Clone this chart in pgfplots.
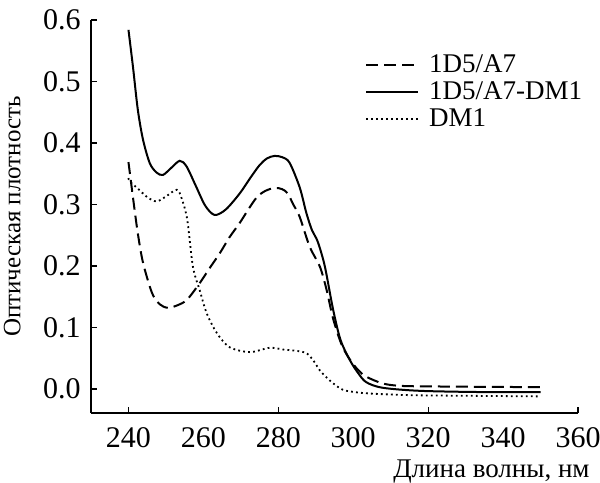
\documentclass[border=0pt]{standalone}
\usepackage{fontspec}
\setmainfont{Liberation Serif}
\usepackage{pgfplots}
\pgfplotsset{compat=1.18}

\begin{document}
\fontsize{15bp}{17bp}\selectfont
\begin{tikzpicture}
\begin{axis}[
  name=ax,
  scale only axis,
  width=243.5bp, height=196.5bp,
  xmin=230, xmax=360,
  ymin=-0.039, ymax=0.6,
  axis x line*=bottom,
  axis y line*=left,
  axis line style={-, line width=0.6bp},
  tick style={black, line width=0.6bp},
  tick align=inside,
  major tick length=3bp,
  xtick={240,280,320,360},
  extra x ticks={260,300,340},
  extra x tick style={major tick length=0pt},
  ytick={0,0.1,...,0.6},
  yticklabel style={/pgf/number format/fixed, /pgf/number format/fixed zerofill, /pgf/number format/precision=1},
  /pgf/number format/assume math mode=true,
  xticklabel style={yshift=-2bp},
  ylabel={Оптическая плотность},
  ylabel style={font=\fontsize{12.5bp}{14bp}\selectfont, yshift=1bp},
  xlabel={Длина волны, нм},
  xlabel style={font=\fontsize{13.5bp}{15bp}\selectfont, at={(axis description cs:1,0)}, anchor=base east, xshift=11bp, yshift=-32bp},
  legend style={draw=none, fill=none, at={(rel axis cs:0.55,0.925)}, anchor=north west,
    row sep=2bp, column sep=5bp, font=\fontsize{13.5bp}{15bp}\selectfont,
    nodes={inner sep=0pt, text height=9.5bp, text depth=2bp}},
  legend cell align=left,
  legend image code/.code={\draw[#1] (0bp,0bp) -- (26bp,0bp);},
  every axis plot/.append style={smooth, no markers, black},
]

\addplot[line width=1bp, dash pattern=on 6bp off 3bp] coordinates {
  (240,0.369)(241.3,0.307)(242.5,0.253)(243.9,0.205)(246.3,0.156)(248.3,0.138)
  (250.5,0.132)(253,0.136)(255.6,0.145)(259,0.172)(261.5,0.195)(264.4,0.221)
  (267,0.247)(269.7,0.270)(272,0.292)(274.3,0.312)(276.5,0.322)(279,0.327)
  (281,0.325)(282.5,0.318)(284,0.300)(285.7,0.280)(288.4,0.231)(291.1,0.199)
  (292.9,0.161)(294.6,0.115)(296.9,0.072)(299.1,0.048)(301.3,0.031)(303.5,0.020)
  (307.9,0.009)(313,0.005)(325,0.004)(350,0.003)
};
\addplot[line width=1bp] coordinates {
  (240,0.584)(241.2,0.524)(242.5,0.454)(243.9,0.405)(245.7,0.367)(247.5,0.352)
  (249.2,0.348)(251.5,0.360)(253.7,0.371)(255.5,0.362)(258,0.330)(260.5,0.298)
  (263,0.283)(266,0.292)(269.7,0.318)(272.5,0.343)(275,0.364)(277,0.375)
  (279,0.379)(281,0.377)(283,0.368)(285.7,0.328)(287.5,0.286)(289,0.258)
  (290.5,0.240)(292.4,0.200)(294.6,0.130)(296.6,0.080)(299.1,0.047)(301.3,0.026)
  (303.5,0.011)(307.9,0.002)(318,-0.003)(335,-0.005)(350,-0.005)
};
\addplot[line width=0.9bp, dash pattern=on 0.9bp off 1.6bp] coordinates {
  (240,0.343)(240.4,0.337)(242.5,0.326)(245,0.312)(247.5,0.305)(250,0.313)
  (252.9,0.324)(254.2,0.310)(255.7,0.275)(257.2,0.199)(259,0.161)(260.9,0.123)
  (263.6,0.091)(267,0.068)(272.4,0.060)(277.7,0.067)(281.5,0.064)(284.9,0.062)
  (287.6,0.058)(289.5,0.045)(291,0.031)(293,0.018)(294.5,0.010)(296.5,0.001)
  (298.3,-0.003)(303.6,-0.007)(315,-0.010)(330,-0.011)(350,-0.012)
};
\legend{1D5/A7,1D5/A7-DM1,DM1}
\end{axis}
\pgfresetboundingbox
\path[use as bounding box] ([xshift=-45.5bp,yshift=-35bp]ax.south west) rectangle ([xshift=11bp,yshift=10bp]ax.north east);
\end{tikzpicture}
\end{document}
